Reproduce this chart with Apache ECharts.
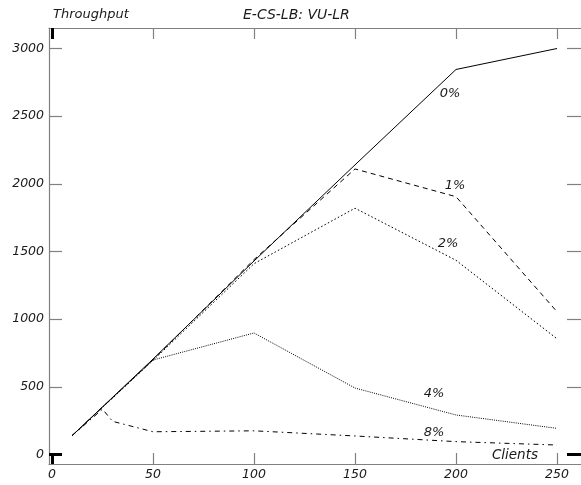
<!DOCTYPE html>
<html>
<head>
<meta charset="utf-8">
<script src="https://cdn.jsdelivr.net/npm/echarts@6/dist/echarts.min.js"></script>
<style>
  html, body { margin: 0; padding: 0; background: #fff; }
  #chart { width: 581px; height: 485px; }
</style>
</head>
<body>
<div id="chart"></div>
<script>
// Throughput against number of clients, one curve per loss rate
const clients = [10, 50, 100, 150, 200, 250];
const clients8 = [10, 25, 30, 50, 100, 150, 200, 250];
const loss0 = [140, 705, 1430, 2140, 2845, 3000];
const loss1 = [140, 700, 1440, 2110, 1905, 1055];
const loss2 = [140, 695, 1410, 1820, 1435, 855];
const loss4 = [140, 698, 898, 491, 292, 193];
const loss8 = [140, 335, 245, 168, 175, 137, 95, 70];
const seriesNames = ['0%', '1%', '2%', '4%', '8%'];
const xTicks = [0, 50, 100, 150, 200, 250];
const yTicks = [0, 500, 1000, 1500, 2000, 2500, 3000];

const FONT = 'DejaVu Sans';
const AXIS_GRAY = '#808080';
const TEXT = '#1a1a1a';

const xMin = xTicks[0], xMax = xTicks[xTicks.length - 1], xStep = xTicks[1] - xTicks[0];
const yMin = yTicks[0], yMax = yTicks[yTicks.length - 1], yStep = yTicks[1] - yTicks[0];

// the curve label sits next to the point at 200 clients
const labelAt = 200;
const curves = [
  { x: clients,  y: loss0, dash: 'solid',        offset: [-6, 24] },
  { x: clients,  y: loss1, dash: [5, 4],         offset: [-1, -11] },
  { x: clients,  y: loss2, dash: [1.6, 2.2],     offset: [-8, -17] },
  { x: clients,  y: loss4, dash: [1, 1.2],       offset: [-22, -21] },
  { x: clients8, y: loss8, dash: [5, 4, 1.5, 4], offset: [-22, -9] }
];

// index of the data-area axes used by the curves
const DATA_X = 2;
const DATA_Y = 1;

const series = curves.map((c, i) => ({
  name: seriesNames[i],
  type: 'line',
  xAxisIndex: DATA_X,
  yAxisIndex: DATA_Y,
  symbol: 'circle',
  symbolSize: 1,
  itemStyle: { color: 'rgba(0,0,0,0)' },
  lineStyle: { color: '#000', width: 1, type: c.dash },
  silent: true,
  animation: false,
  z: 10 - i,
  data: c.x.map((x, k) => x === labelAt ? {
    value: [x, c.y[k]],
    label: {
      show: true, position: 'inside', offset: c.offset,
      formatter: seriesNames[i],
      color: TEXT, fontFamily: FONT, fontStyle: 'italic', fontSize: 13
    }
  } : [x, c.y[k]])
}));

const hidden = { show: false };
const noLine = { show: false, onZero: false };
const frameLine = { show: true, onZero: false, lineStyle: { color: AXIS_GRAY, width: 1.2 } };
const grayTick = (inside, length) => ({
  show: true, inside, length, lineStyle: { color: AXIS_GRAY, width: 1.2 }
});
const zeroTick = (inside, length) => ({
  show: true, inside, length, customValues: [0],
  lineStyle: { color: '#000', width: 3 }
});

// data-scale axes carry ticks and labels only; grid 0 draws the frame rules
function dataX(position, offset, extra) {
  return Object.assign({
    gridIndex: 1, type: 'value', position, offset,
    min: xMin, max: xMax, interval: xStep,
    axisLine: noLine, splitLine: hidden, axisLabel: hidden
  }, extra);
}
function dataY(position, offset, extra) {
  return Object.assign({
    gridIndex: 1, type: 'value', position, offset,
    min: yMin, max: yMax, interval: yStep,
    axisLine: noLine, splitLine: hidden, axisLabel: hidden
  }, extra);
}
function frameAxis(position) {
  return { gridIndex: 0, type: 'value', position, min: 0, max: 1,
    axisLine: frameLine, axisTick: hidden, axisLabel: hidden, splitLine: hidden };
}

const labelFont = { color: TEXT, fontFamily: FONT, fontStyle: 'italic', fontSize: 12.5 };

const option = {
  backgroundColor: '#fff',
  animation: false,
  title: [
    { text: 'Throughput', left: 53, top: 8, padding: 0,
      textStyle: { fontFamily: FONT, fontStyle: 'italic', fontWeight: 'normal', fontSize: 13, color: TEXT } },
    { text: 'E-CS-LB: VU-LR', left: 243, top: 8, padding: 0,
      textStyle: { fontFamily: FONT, fontStyle: 'italic', fontWeight: 'normal', fontSize: 14, color: TEXT } }
  ],
  grid: [
    // outer frame: left, top and bottom rules
    { left: 49, right: 0, top: 28, bottom: 21 },
    // data area
    { left: 52, right: 24, top: 48.5, bottom: 30.5 }
  ],
  xAxis: [
    frameAxis('bottom'),
    frameAxis('top'),
    dataX('bottom', 9.5, {
      axisTick: grayTick(true, 11),
      axisLabel: Object.assign({ show: true, margin: 4, formatter: v => String(v) }, labelFont),
      name: 'Clients', nameLocation: 'end', nameGap: -19,
      nameTextStyle: { align: 'right', verticalAlign: 'bottom', padding: [0, 0, 2, 0],
        color: TEXT, fontFamily: FONT, fontStyle: 'italic', fontSize: 13.5 }
    }),
    dataX('top', 20.5, { axisTick: grayTick(true, 11) }),
    dataX('bottom', 9.5, { axisTick: zeroTick(true, 11) }),
    dataX('top', 20.5, { axisTick: zeroTick(true, 11) })
  ],
  yAxis: [
    frameAxis('left'),
    dataY('left', 3, {
      axisTick: grayTick(true, 13),
      axisLabel: Object.assign({ show: true, margin: 5, formatter: v => String(v) }, labelFont)
    }),
    // free-standing ticks to the right of the data area
    dataY('right', 10, { axisTick: grayTick(false, 14) }),
    dataY('left', 3, { axisTick: zeroTick(true, 13) }),
    dataY('right', 10, { axisTick: zeroTick(false, 14) })
  ],
  series
};

const chart = echarts.init(document.getElementById('chart'), null, { renderer: 'canvas' });
chart.setOption(option);
</script>
</body>
</html>
